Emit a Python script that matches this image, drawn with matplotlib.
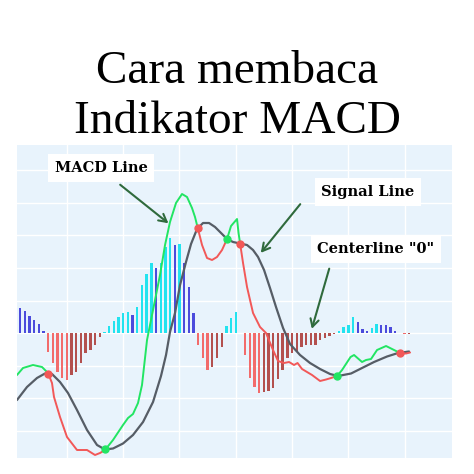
import numpy as np
import matplotlib
matplotlib.use("Agg")
import matplotlib.pyplot as plt

# histogram values (one per period)
hist = [25, 22, 17, 13, 9, 2.5,
        -19, -30, -39, -45, -47, -42, -39, -30, -20, -17, -12, -4,
        1, 7, 12, 16, 20, 21, 18, 26, 48, 59, 70, 65, 70, 86, 95, 88, 89, 70, 46, 20,
        -12, -25, -37, -34, -25, -14,
        7, 15, 21,
        0,
        -22, -45, -54, -60, -59, -58, -55, -46, -37, -25, -20, -18, -14, -12, -12, -12, -7, -5, -3, -1,
        2.5, 6.5, 8, 16.5, 11.5, 4, 2.5, 5, 9, 8, 8, 6.5, 2.5,
        0,
        -1, -1]

# MACD line
macd_x = [-0.64, 0.64, 2.77, 4.69, 5.97, 6.82, 7.25, 8.53, 10.02, 12.15, 14.29, 15.99, 17.06, 18.12,
          19.83, 21.96, 23.03, 24.09, 25.16, 26.01, 27.08, 28.36, 29.85, 30.92, 31.98, 33.26, 34.54,
          35.61, 36.67, 37.31, 37.95, 38.81, 39.87, 40.94, 42.0, 43.07, 44.14, 44.99, 46.27, 46.59,
          46.91, 47.55, 48.4, 49.68, 51.17, 52.45, 53.94, 55.01, 56.29, 57.36, 58.42, 59.17, 60.13,
          61.19, 62.26, 63.97, 65.25, 66.31, 67.59, 68.66, 70.47, 71.22, 72.92, 73.77, 74.84, 76.12,
          78.04, 79.32, 80.6, 81.24, 82.3, 83.16]
macd_y = [-42, -35, -32, -34, -40, -50, -64, -84, -104, -117, -117, -122, -120, -117,
          -107, -92, -85, -81, -70, -52, -7, 23, 58, 88, 111, 130, 139,
          136, 125, 116, 104, 88, 75, 73, 76, 83, 94, 107, 114, 100,
          90, 70, 46, 20, 6, 0, -17, -28, -30, -29, -32, -30, -36,
          -39, -42, -48, -46.5, -45, -43, -37, -24, -22, -29, -27, -26, -17,
          -13, -16, -19, -20.5, -20.5, -19.5]

# signal line
signal_x = [-0.64, 1.49, 3.62, 5.33, 6.82, 8.53, 10.23, 12.15, 14.29, 16.42, 18.12, 19.83, 21.96,
            24.09, 26.23, 28.36, 30.06, 31.13, 31.98, 33.05, 34.12, 35.39, 36.46, 37.74, 39.02,
            40.3, 41.58, 42.86, 44.14, 45.42, 46.91, 48.4, 49.68, 50.75, 52.03, 53.3, 54.58, 56.08,
            57.57, 59.7, 61.83, 63.97, 66.1, 67.8, 70.58, 72.71, 75.48, 78.25, 80.6, 82.94]
signal_y = [-67, -54, -45, -40.5, -41, -49, -60, -77, -97, -112, -116.5, -115.5, -110.5,
            -102, -89, -69, -43, -22, 1, 20, 48, 71, 89, 104, 110,
            110, 106, 100, 94, 91, 89.5, 88, 83, 76, 63, 45, 26, 5,
            -11, -22, -30, -36, -41, -43, -40.5, -35.5, -29, -23.5, -20, -18.5]

CYAN, BLUE = "#22e3ef", "#4b4bdc"
LRED, DRED = "#f26b6b", "#b3504e"
GREEN, RED, GRAY = "#22e563", "#f25858", "#565d66"

fig = plt.figure(figsize=(4.74, 4.74), dpi=100)
fig.patch.set_facecolor("white")

fig.text(0.5, 1 - 83 / 474, "Cara membaca", family="Liberation Serif",
         fontsize=34, ha="center", va="baseline", color="black")
fig.text(0.5, 1 - 133 / 474, "Indikator MACD", family="Liberation Serif",
         fontsize=34, ha="center", va="baseline", color="black")

ax = fig.add_axes([17 / 474, 16 / 474, 435 / 474, 313 / 474])
ax.set_facecolor("#e8f3fc")
for s in ax.spines.values():
    s.set_visible(False)
ax.set_xlim(-0.64, 92.1)
ax.set_ylim(-125, 188)
ax.set_xticks([10, 22, 34, 46, 58, 70, 82])
ax.set_yticks(np.arange(-97.5, 180, 32.5))
ax.tick_params(length=0, labelbottom=False, labelleft=False)
ax.grid(True, color="white", lw=1.0)
ax.set_axisbelow(True)

# histogram
h = np.array(hist, dtype=float)
prev = np.concatenate([[h[0]], h[:-1]])
colors = []
for v, p in zip(h, prev):
    if v >= 0:
        colors.append(CYAN if v > p else BLUE)
    else:
        colors.append(LRED if v < p else DRED)
ax.bar(np.arange(len(h)), h, width=0.5, color=colors, zorder=2)

# signal line
ax.plot(signal_x, signal_y, color=GRAY, lw=1.6, zorder=3, solid_capstyle="round")

# MACD line, green above signal, red below
mx = np.array(macd_x)
my = np.array(macd_y, dtype=float)
d = my - np.interp(mx, signal_x, signal_y)
segs = []
crosses = []
cur_x, cur_y, cur_s = [mx[0]], [my[0]], d[0] >= 0
for k in range(1, len(mx)):
    s = d[k] >= 0
    if s != cur_s:
        t = d[k - 1] / (d[k - 1] - d[k])
        cx = mx[k - 1] + t * (mx[k] - mx[k - 1])
        cy = my[k - 1] + t * (my[k] - my[k - 1])
        cur_x.append(cx)
        cur_y.append(cy)
        segs.append((cur_x, cur_y, cur_s))
        crosses.append((cx, cy, s))
        cur_x, cur_y, cur_s = [cx, mx[k]], [cy, my[k]], s
    else:
        cur_x.append(mx[k])
        cur_y.append(my[k])
segs.append((cur_x, cur_y, cur_s))
for sx, sy, up in segs:
    ax.plot(sx, sy, color=GREEN if up else RED, lw=1.4, zorder=4, solid_capstyle="round")
for cx, cy, up in crosses:
    ax.plot(cx, cy, "o", color=GREEN if up else RED, ms=5, zorder=5)

# labels and arrows
box = dict(boxstyle="square,pad=0.45", fc="white", ec="none")
lab = dict(family="DejaVu Serif", fontweight="heavy", fontsize=10.5, color="black",
           ha="center", va="center", bbox=box)
fig.text(101 / 474, 1 - 168 / 474, "MACD Line", **lab)
fig.text(368 / 474, 1 - 192 / 474, "Signal Line", **lab)
fig.text(376 / 474, 1 - 249 / 474, 'Centerline "0"', **lab)

arrow = dict(arrowstyle="->,head_length=0.55,head_width=0.3", color="#2f6a3c", lw=1.5)
ax.annotate("", xy=(32.1, 108), xycoords="data",
            xytext=(118 / 474, 1 - 183 / 474), textcoords="figure fraction", arrowprops=arrow)
ax.annotate("", xy=(50.96, 78), xycoords="data",
            xytext=(302 / 474, 1 - 202 / 474), textcoords="figure fraction", arrowprops=arrow)
ax.annotate("", xy=(62.05, 1.5), xycoords="data",
            xytext=(330 / 474, 1 - 266 / 474), textcoords="figure fraction", arrowprops=arrow)

fig.savefig("out.png", dpi=100)
